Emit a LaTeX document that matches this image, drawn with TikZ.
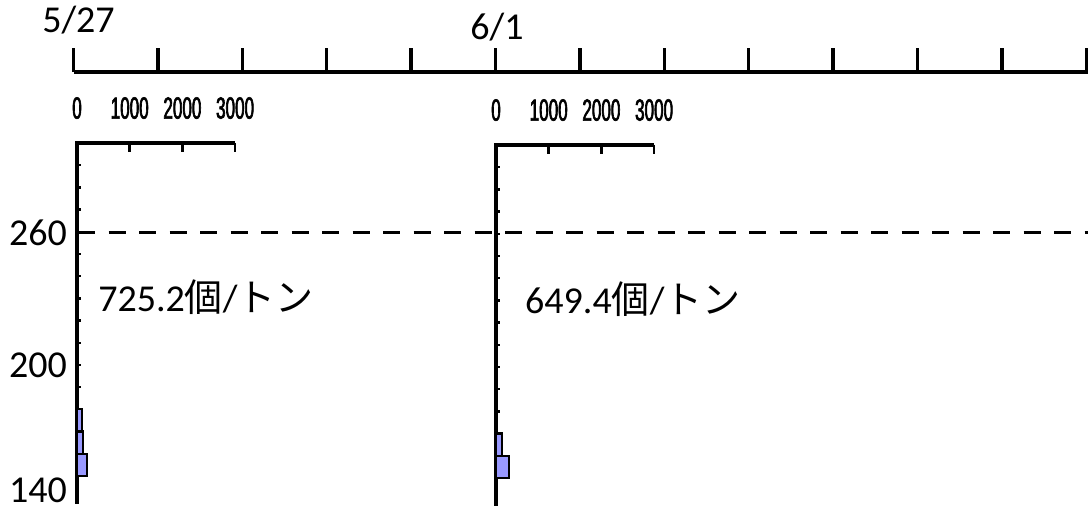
\documentclass[tikz,border=0pt]{standalone}
\usepackage{fontspec}
\setmainfont{Carlito}
\newfontfamily\jpfont{Noto Sans CJK JP}
\newfontfamily\narrowfont[FakeStretch=0.56,FakeBold=2]{Liberation Sans}
\definecolor{c1}{RGB}{153,153,255}
\tikzstyle{survey}=[
    x=1pt, y=1pt,
    axis/.style={black,line width=3.5pt},
    small tick/.style={black,line width=2.5pt},
    big label/.style={font={\fontsize{38}{40}\selectfont},inner sep=0pt},
    scale label/.style={font={\narrowfont\fontsize{30.5}{32}\selectfont},inner sep=0pt,anchor=base},
    bar/.style={fill=c1,draw=black,line width=2.2pt},
    level/.style={black,line width=3.5pt,dash pattern=on 17pt off 13.5pt},
]
\newcommand{\timeline}[1][]{
    \begin{scope}[#1]
    \draw[axis] (73.5,438) -- (1088,438);
    \foreach \i in {0,...,12}
        \draw[axis] (73.5+\i*84.4,438) -- ++(0,24);
    \end{scope}
}
% #1 scope options, #2 value text, #3 its x, #4 bars as from/to/width
\newcommand{\profile}[4][]{
    \begin{scope}[#1,x=52.7pt,y=2.22pt]
    \draw[axis] (0,137.5) -- (0,300) -- (3,300);
    \foreach \w in {1,2,3}
        \draw[small tick] (\w,300) -- ++(0,-4);
    \foreach \w/\t in {0/0,1/1000,2/2000,3/3000}
        \node[scale label] (scale\t) at (\w,311) {\t};
    \foreach \v in {150,160,...,290}
        \draw[small tick] (0,\v) -- ++(3.5pt,0);
    \foreach \a/\b/\w in {#4}
        \draw[bar] (0,\a) rectangle (\w,\b);
    \node[big label,anchor=base west] (value) at (#3,224) {#2};
    \end{scope}
}

\begin{document}
\begin{tikzpicture}[survey]
    \useasboundingbox (0,0) rectangle (1088,510);
    \timeline
    \node[big label,anchor=base] (may27) at (78.5,477) {5/27};
    \node[big label,anchor=base] (jun1) at (497,470) {6/1};
    \profile[shift={(77,-299)},name prefix=may-]{725.2{\jpfont 個}/{\jpfont トン}}{0.4}{190/180/0.02,180/170/0.1,170/160/0.12,160/150/0.19}
    \profile[shift={(496,-301)},name prefix=jun-]{649.4{\jpfont 個}/{\jpfont トン}}{0.55}{180/170/0.02,170/160/0.12,160/150/0.25}
    \draw[level] (78,277.5) -- (1088,277.5);
    \foreach \v/\y in {260/277.5,200/145,140/19.5}
        \node[big label,anchor=east] (depth\v) at (67,\y) {\v};
\end{tikzpicture}
\end{document}
